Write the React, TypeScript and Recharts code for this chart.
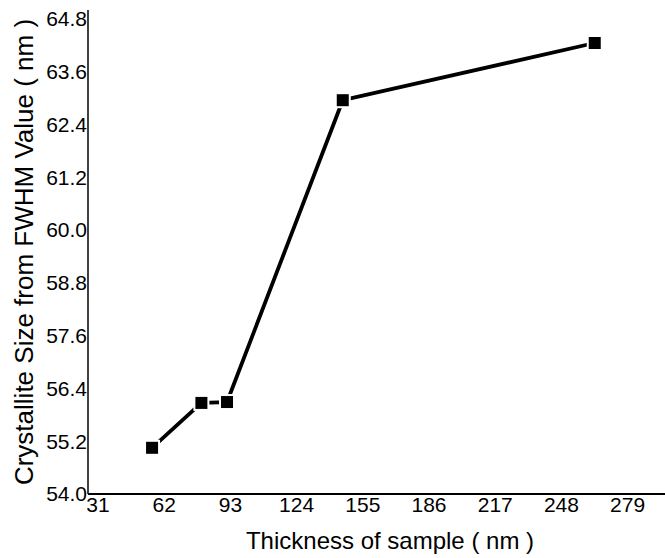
import React from "react";
import { LineChart, Line, XAxis, YAxis, Label } from "recharts";

// thickness (nm) vs crystallite size (nm)
const thickness = [56.3, 79.4, 91.4, 145.6, 263.6];
const crystalliteSize = [55.05, 56.07, 56.09, 62.95, 64.25];

const xTicks = [31, 62, 93, 124, 155, 186, 217, 248, 279];
const yTicks = [54.0, 55.2, 56.4, 57.6, 58.8, 60.0, 61.2, 62.4, 63.6, 64.8];

const data = thickness.map((t, i) => ({ thickness: t, size: crystalliteSize[i] }));

const FONT = "'Liberation Sans', Arial, sans-serif";

const SquareDot = (props: any) => {
  const { cx, cy, index } = props;
  if (cx == null || cy == null) return null;
  return (
    <g key={`dot-${index}`}>
      <rect x={cx - 8} y={cy - 8} width={16} height={16} fill="#ffffff" />
      <rect x={cx - 6} y={cy - 6} width={12} height={12} fill="#000000" />
    </g>
  );
};

const App: React.FC = () => {
  return (
    <div style={{ position: "absolute", left: 0, top: 0, width: 665, height: 558, background: "#fff" }}>
      <LineChart
        width={665}
        height={558}
        data={data}
        margin={{ top: 10, right: 0, left: 0, bottom: 0 }}
      >
        <XAxis
          xAxisId="top"
          orientation="top"
          dataKey="thickness"
          type="number"
          domain={[26.3, 296.5]}
          height={0}
          tick={false}
          tickLine={false}
          axisLine={{ stroke: "#808080", strokeWidth: 2 }}
        />
        <XAxis
          dataKey="thickness"
          type="number"
          domain={[26.3, 296.5]}
          ticks={xTicks}
          interval={0}
          height={64}
          tickLine={false}
          tickSize={0}
          tickMargin={3}
          axisLine={{ stroke: "#000", strokeWidth: 2 }}
          tick={{ fill: "#000", fontSize: 21, fontFamily: FONT }}
        >
          <Label
            content={() => (
              <text
                x={390}
                y={540}
                textAnchor="middle"
                dominantBaseline="central"
                fontSize={24}
                fontFamily={FONT}
                fill="#000"
              >
                Thickness of sample ( nm )
              </text>
            )}
          />
        </XAxis>
        <YAxis
          dataKey="size"
          type="number"
          domain={[54, 65]}
          ticks={yTicks}
          interval={0}
          width={88}
          tickLine={false}
          tickSize={0}
          tickMargin={1}
          tickFormatter={(v: number) => v.toFixed(1)}
          axisLine={{ stroke: "#000", strokeWidth: 1.5 }}
          tick={{ fill: "#000", fontSize: 21, fontFamily: FONT }}
        >
          <Label
            content={() => (
              <text
                x={24}
                y={252}
                transform="rotate(-90 24 252)"
                textAnchor="middle"
                dominantBaseline="central"
                fontSize={26}
                fontFamily={FONT}
                fill="#000"
              >
                Crystallite Size from FWHM Value ( nm )
              </text>
            )}
          />
        </YAxis>
        <Line
          dataKey="size"
          stroke="#000"
          strokeWidth={3.8}
          dot={SquareDot}
          activeDot={false}
          isAnimationActive={false}
        />
      </LineChart>
    </div>
  );
};

export default App;
